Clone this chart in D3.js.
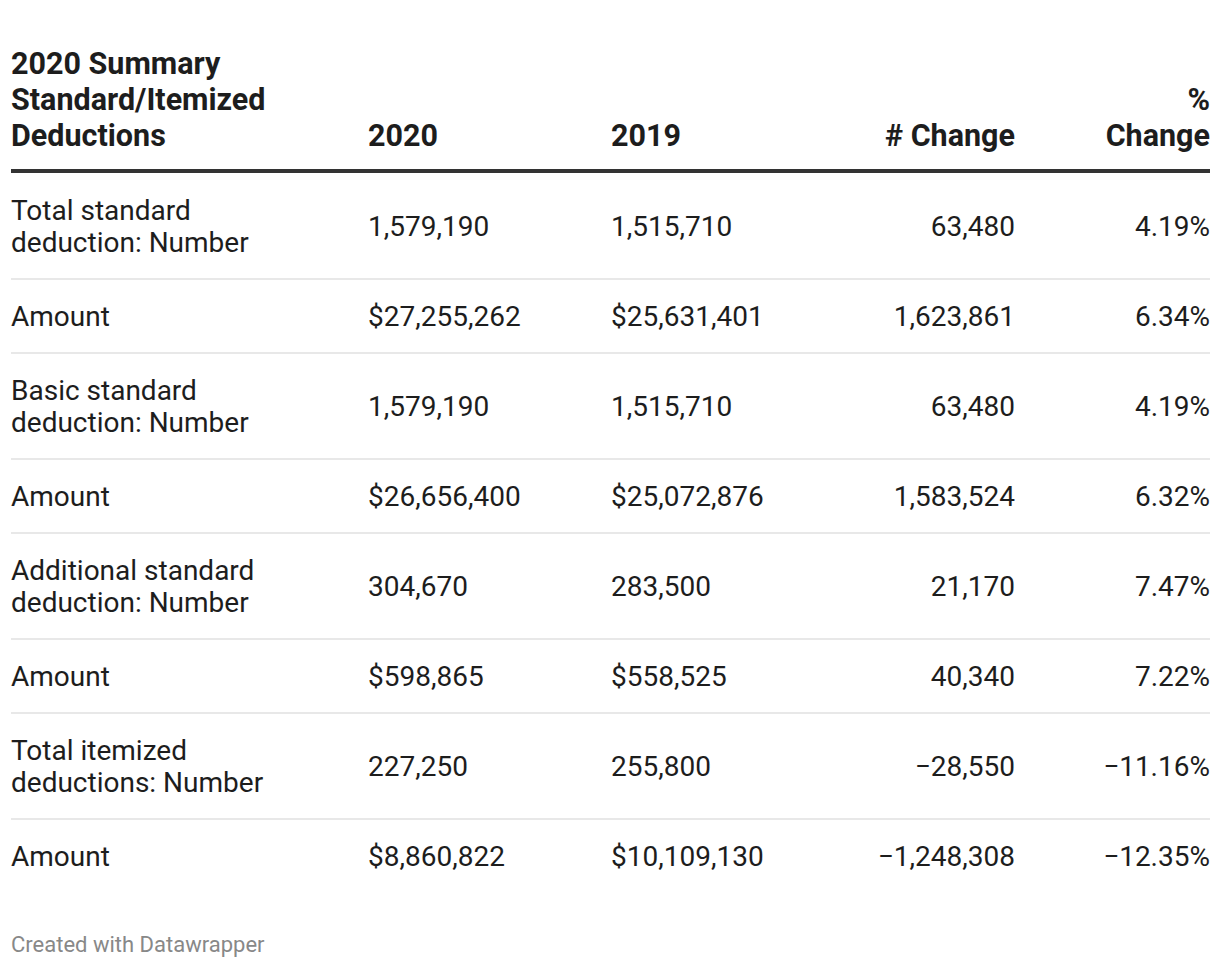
<!DOCTYPE html>
<html>
<head>
<meta charset="utf-8">
<script src="https://cdn.jsdelivr.net/npm/d3@7"></script>
<style>
  html, body { margin: 0; padding: 0; background: #fff; }
  svg { display: block; font-family: Roboto, "Noto Sans", sans-serif; }
</style>
</head>
<body>
<svg id="chart" width="1220" height="968"></svg>
<script>
// ---- data ----
const headers = ["2020 Summary Standard/Itemized Deductions", "2020", "2019", "# Change", "% Change"];
const labels = [
  "Total standard deduction: Number",
  "Amount",
  "Basic standard deduction: Number",
  "Amount",
  "Additional standard deduction: Number",
  "Amount",
  "Total itemized deductions: Number",
  "Amount"
];
const values2020 = [1579190, 27255262, 1579190, 26656400, 304670, 598865, 227250, 8860822];
const values2019 = [1515710, 25631401, 1515710, 25072876, 283500, 558525, 255800, 10109130];
const numChange = [63480, 1623861, 63480, 1583524, 21170, 40340, -28550, -1248308];
const pctChange = [4.19, 6.34, 4.19, 6.32, 7.47, 7.22, -11.16, -12.35];
const footer = "Created with Datawrapper";

// ---- layout ----
const left = 11, right = 1210;
const bodySize = 28, headSize = 30.5;
const lineH = 32, headLineH = 36, padY = 21;
const columns = [
  { x: left, anchor: "start", wrap: 300 },
  { x: 368, anchor: "start", wrap: 220 },
  { x: 611, anchor: "start", wrap: 220 },
  { x: 1015, anchor: "end", wrap: 220 },
  { x: right, anchor: "end", wrap: 125 }
];

const fmtInt = d3.format(",");
const fmtPct = d => d3.format(".2f")(d) + "%";
const isAmount = l => l === "Amount";

const rows = labels.map((l, i) => {
  const money = isAmount(l);
  return [
    l,
    (money ? "$" : "") + fmtInt(values2020[i]),
    (money ? "$" : "") + fmtInt(values2019[i]),
    fmtInt(numChange[i]),
    fmtPct(pctChange[i])
  ];
});

const svg = d3.select("#chart");

// measure helper for wrapping
const measure = svg.append("text").attr("visibility", "hidden");
function wrapText(str, size, weight, maxW) {
  measure.attr("font-size", size).attr("font-weight", weight);
  const words = str.split(" ");
  const lines = [];
  let cur = "";
  words.forEach(w => {
    const test = cur ? cur + " " + w : w;
    measure.text(test);
    if (cur && measure.node().getComputedTextLength() > maxW) {
      lines.push(cur);
      cur = w;
    } else cur = test;
  });
  if (cur) lines.push(cur);
  return lines;
}

// ---- header ----
const headerBottom = 171;
const headLines = headers.map((h, j) => wrapText(h, headSize, 700, columns[j].wrap));
const headG = svg.append("g");
headLines.forEach((lines, j) => {
  const t = headG.append("text")
    .attr("text-anchor", columns[j].anchor)
    .attr("font-size", headSize)
    .attr("font-weight", 700)
    .attr("fill", "#1d1d1d");
  const n = lines.length;
  lines.forEach((ln, k) => {
    t.append("tspan")
      .attr("x", columns[j].x)
      .attr("y", headerBottom - 36 - (n - 1 - k) * headLineH)
      .attr("dy", "0.35em")
      .text(ln);
  });
});
svg.append("rect")
  .attr("x", left).attr("width", right - left)
  .attr("y", headerBottom - 2).attr("height", 4)
  .attr("fill", "#333");

// ---- body rows ----
const rowLines = rows.map(r => r.map((c, j) => j === 0 ? wrapText(c, bodySize, 400, columns[0].wrap) : [c]));
const rowHeights = rowLines.map(rl => d3.max(rl, c => c.length) * lineH + 2 * padY);
const rowTops = d3.cumsum([headerBottom + 2, ...rowHeights]);

const rowG = svg.selectAll("g.row")
  .data(rows)
  .join("g")
  .attr("class", "row")
  .attr("transform", (d, i) => `translate(0,${rowTops[i]})`);

rowG.filter((d, i) => i > 0)
  .append("rect")
  .attr("x", left).attr("width", right - left)
  .attr("y", -1).attr("height", 2)
  .attr("fill", "#e8e8e8");

rowG.each(function(r, i) {
  const g = d3.select(this);
  const h = rowHeights[i];
  r.forEach((c, j) => {
    const lines = rowLines[i][j];
    const t = g.append("text")
      .attr("text-anchor", columns[j].anchor)
      .attr("font-size", bodySize)
      .attr("fill", "#1d1d1d");
    const n = lines.length;
    lines.forEach((ln, k) => {
      t.append("tspan")
        .attr("x", columns[j].x)
        .attr("y", h / 2 + (k - (n - 1) / 2) * lineH)
        .attr("dy", "0.35em")
        .text(ln);
    });
  });
});

measure.remove();

// ---- footer ----
svg.append("text")
  .attr("x", left)
  .attr("y", 944)
  .attr("dy", "0.35em")
  .attr("font-size", 22)
  .attr("fill", "#888")
  .text(footer);
</script>
</body>
</html>
